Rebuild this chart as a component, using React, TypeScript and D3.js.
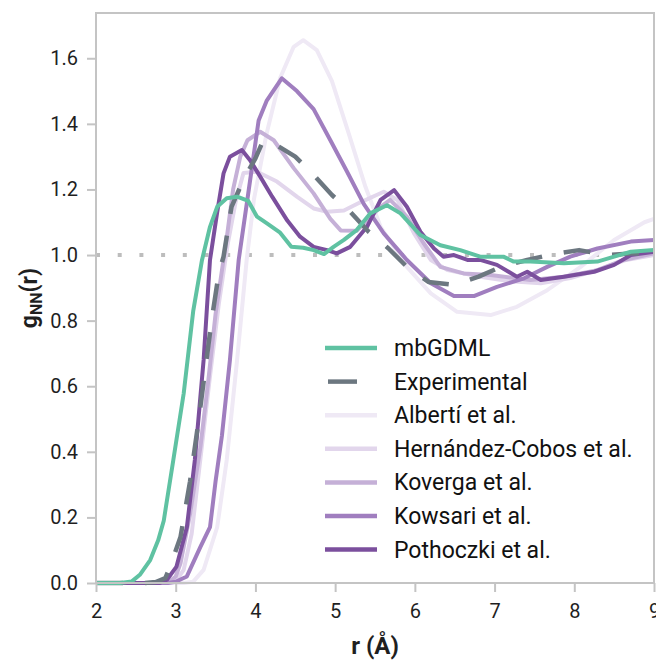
import React, { useEffect, useRef } from 'react';
import * as d3 from 'd3';

// values
const mbgdmlR = [2.0, 2.3, 2.45, 2.55, 2.68, 2.78, 2.85, 2.97, 3.1, 3.22, 3.33, 3.43, 3.52, 3.64, 3.77, 3.91, 4.02, 4.14, 4.31, 4.45, 4.6, 4.73, 4.86, 4.98, 5.11, 5.27, 5.44, 5.65, 5.82, 6.07, 6.32, 6.57, 6.82, 7.11, 7.24, 7.45, 7.87, 8.29, 8.5, 8.71, 9.0];
const mbgdmlG = [0, 0, 0.005, 0.025, 0.07, 0.13, 0.19, 0.375, 0.578, 0.83, 0.985, 1.086, 1.147, 1.173, 1.178, 1.165, 1.117, 1.097, 1.068, 1.025, 1.022, 1.015, 1.003, 1.025, 1.046, 1.076, 1.127, 1.152, 1.127, 1.061, 1.03, 1.015, 0.995, 0.995, 0.98, 0.98, 0.975, 0.98, 0.995, 1.01, 1.015];

const expR = [2.0, 2.6, 2.75, 2.87, 2.93, 3.06, 3.18, 3.29, 3.37, 3.45, 3.54, 3.6, 3.7, 3.85, 4.0, 4.1, 4.23, 4.5, 4.73, 4.96, 5.19, 5.42, 5.67, 5.9, 6.17, 6.49, 6.8, 7.08, 7.41, 7.74, 8.06, 8.4, 8.71, 9.0];
const expG = [0, 0, 0.003, 0.015, 0.05, 0.14, 0.31, 0.5, 0.65, 0.8, 0.944, 0.995, 1.147, 1.23, 1.295, 1.35, 1.34, 1.3, 1.244, 1.183, 1.132, 1.071, 1.02, 0.964, 0.918, 0.909, 0.934, 0.964, 0.985, 1.003, 1.015, 1.0, 1.005, 1.005];

const albertiR = [2.0, 3.1, 3.22, 3.35, 3.52, 3.64, 3.77, 3.89, 3.98, 4.14, 4.31, 4.48, 4.6, 4.77, 4.96, 5.17, 5.38, 5.57, 5.9, 6.2, 6.53, 6.95, 7.28, 7.66, 8.08, 8.5, 8.88, 9.0];
const albertiG = [0, 0, 0.004, 0.04, 0.17, 0.375, 0.68, 0.985, 1.168, 1.37, 1.54, 1.635, 1.655, 1.625, 1.53, 1.371, 1.208, 1.086, 0.964, 0.883, 0.827, 0.817, 0.842, 0.893, 0.964, 1.046, 1.1, 1.11];

const hernandezR = [2.0, 2.9, 3.0, 3.1, 3.2, 3.32, 3.43, 3.54, 3.65, 3.75, 3.85, 4.02, 4.27, 4.52, 4.73, 4.9, 5.11, 5.31, 5.52, 5.61, 5.78, 5.99, 6.2, 6.41, 6.82, 7.2, 7.58, 7.95, 8.3, 8.65, 9.0];
const hernandezG = [0, 0, 0.005, 0.04, 0.15, 0.4, 0.63, 0.85, 1.03, 1.16, 1.25, 1.254, 1.224, 1.178, 1.142, 1.132, 1.136, 1.16, 1.183, 1.193, 1.168, 1.066, 0.985, 0.954, 0.934, 0.92, 0.914, 0.93, 0.955, 0.985, 1.0];

const kovergaR = [2.0, 2.9, 3.0, 3.06, 3.18, 3.31, 3.41, 3.5, 3.56, 3.65, 3.72, 3.81, 3.9, 4.06, 4.23, 4.48, 4.73, 4.94, 5.07, 5.27, 5.57, 5.69, 5.9, 6.11, 6.32, 6.61, 6.95, 7.45, 7.87, 8.29, 8.62, 9.0];
const kovergaG = [0, 0, 0.02, 0.06, 0.21, 0.415, 0.62, 0.82, 0.92, 1.07, 1.2, 1.3, 1.35, 1.376, 1.35, 1.265, 1.188, 1.11, 1.075, 1.074, 1.147, 1.168, 1.117, 1.036, 0.964, 0.944, 0.939, 0.924, 0.934, 0.954, 0.985, 1.005];

const kowsariR = [2.0, 2.9, 3.0, 3.14, 3.31, 3.43, 3.5, 3.58, 3.68, 3.79, 3.91, 4.04, 4.14, 4.33, 4.52, 4.73, 4.94, 5.15, 5.36, 5.61, 5.9, 6.2, 6.49, 6.74, 7.03, 7.37, 7.66, 7.95, 8.29, 8.71, 9.0];
const kowsariG = [0, 0, 0.004, 0.02, 0.11, 0.17, 0.31, 0.45, 0.68, 0.985, 1.188, 1.41, 1.47, 1.539, 1.5, 1.445, 1.35, 1.254, 1.155, 1.066, 0.985, 0.914, 0.875, 0.875, 0.903, 0.929, 0.964, 0.995, 1.02, 1.041, 1.046];

const pothoczkiR = [2.0, 2.8, 2.89, 3.01, 3.14, 3.24, 3.35, 3.43, 3.52, 3.6, 3.68, 3.83, 3.93, 4.06, 4.21, 4.4, 4.56, 4.73, 4.9, 5.02, 5.19, 5.4, 5.57, 5.74, 5.9, 6.07, 6.24, 6.36, 6.49, 6.66, 6.82, 7.03, 7.28, 7.41, 7.58, 7.87, 8.25, 8.5, 8.71, 9.0];
const pothoczkiG = [0, 0, 0.01, 0.05, 0.17, 0.375, 0.68, 0.985, 1.13, 1.249, 1.3, 1.32, 1.29, 1.239, 1.178, 1.105, 1.056, 1.025, 1.015, 1.005, 1.025, 1.086, 1.168, 1.198, 1.147, 1.071, 1.02, 0.995, 1.0, 0.985, 0.985, 0.97, 0.934, 0.949, 0.924, 0.934, 0.949, 0.97, 1.0, 1.01];

const xTicks = [2, 3, 4, 5, 6, 7, 8, 9];
const yTicks = [0, 0.2, 0.4, 0.6, 0.8, 1.0, 1.2, 1.4, 1.6];

// legend order
const series = [
  { name: 'mbGDML', r: mbgdmlR, g: mbgdmlG, color: '#5fc2a2', dashed: false },
  { name: 'Experimental', r: expR, g: expG, color: '#6c7780', dashed: true },
  { name: 'Albertí et al.', r: albertiR, g: albertiG, color: '#efe9f5', dashed: false },
  { name: 'Hernández-Cobos et al.', r: hernandezR, g: hernandezG, color: '#e2d6ec', dashed: false },
  { name: 'Koverga et al.', r: kovergaR, g: kovergaG, color: '#c5b0d7', dashed: false },
  { name: 'Kowsari et al.', r: kowsariR, g: kowsariG, color: '#a07ebf', dashed: false },
  { name: 'Pothoczki et al.', r: pothoczkiR, g: pothoczkiG, color: '#7b4f9d', dashed: false },
];

const W = 656;
const H = 660;
const margin = { top: 13, right: 2, bottom: 77, left: 96 };

export default function App() {
  const ref = useRef<SVGSVGElement>(null);

  useEffect(() => {
    const svg = d3.select(ref.current);
    svg.selectAll('*').remove();
    const font = 'Roboto, "DejaVu Sans", sans-serif';
    const x = d3.scaleLinear().domain([2, 9]).range([margin.left, W - margin.right]);
    const y = d3.scaleLinear().domain([0, 1.738]).range([H - margin.bottom, margin.top]);
    const frame = '#c4c4c4';

    // 1.0 reference line
    svg.append('line')
      .attr('x1', x(2)).attr('x2', x(9))
      .attr('y1', y(1)).attr('y2', y(1))
      .attr('stroke', '#bdbdbd').attr('stroke-width', 4)
      .attr('stroke-dasharray', '4 17.7');

    const line = d3.line<[number, number]>().x(d => x(d[0])).y(d => y(d[1]));
    const drawOrder = [2, 3, 4, 5, 6, 1, 0];
    drawOrder.forEach(i => {
      const s = series[i];
      const pts = s.r.map((r, k) => [r, s.g[k]] as [number, number]);
      svg.append('path')
        .attr('d', line(pts))
        .attr('fill', 'none')
        .attr('stroke', s.color)
        .attr('stroke-width', s.dashed ? 4.5 : 4)
        .attr('stroke-linejoin', 'round')
        .attr('stroke-dasharray', s.dashed ? '27 22' : null);
    });

    // frame
    svg.append('rect')
      .attr('x', margin.left).attr('y', margin.top)
      .attr('width', W - margin.left - margin.right)
      .attr('height', H - margin.top - margin.bottom)
      .attr('fill', 'none').attr('stroke', frame).attr('stroke-width', 2);

    const xAxis = svg.append('g')
      .attr('transform', `translate(0,${H - margin.bottom})`)
      .call(d3.axisBottom(x).tickValues(xTicks).tickFormat(d3.format('d')).tickSize(9).tickPadding(12));
    const yAxis = svg.append('g')
      .attr('transform', `translate(${margin.left},0)`)
      .call(d3.axisLeft(y).tickValues(yTicks).tickFormat(d3.format('.1f')).tickSize(9).tickPadding(9));
    [xAxis, yAxis].forEach(a => {
      a.select('.domain').remove();
      a.selectAll('line').attr('stroke', frame).attr('stroke-width', 2);
      a.selectAll('text').attr('font-family', font).attr('font-size', 20).attr('fill', '#1f1f1f');
    });

    svg.append('text')
      .attr('x', (margin.left + W - margin.right) / 2).attr('y', 654)
      .attr('text-anchor', 'middle')
      .attr('font-family', font).attr('font-size', 24).attr('font-weight', 'bold')
      .attr('fill', '#1f1f1f')
      .text('r (Å)');

    const yl = svg.append('text')
      .attr('transform', `translate(37,${(margin.top + H - margin.bottom) / 2}) rotate(-90)`)
      .attr('text-anchor', 'middle')
      .attr('font-family', font).attr('font-size', 23).attr('font-weight', 'bold')
      .attr('fill', '#1f1f1f');
    yl.append('tspan').text('g');
    yl.append('tspan').attr('font-size', 16).attr('dy', 5).text('NN');
    yl.append('tspan').attr('dy', -5).text('(r)');

    // legend
    const leg = svg.append('g').attr('transform', 'translate(325,348)');
    series.forEach((s, i) => {
      const row = leg.append('g').attr('transform', `translate(0,${i * 33.6})`);
      row.append('line')
        .attr('x1', s.dashed ? 3 : 0).attr('x2', s.dashed ? 32 : 52)
        .attr('stroke', s.color).attr('stroke-width', 4.5);
      row.append('text')
        .attr('x', 69).attr('y', 0).attr('dy', '0.35em')
        .attr('font-family', font).attr('font-size', 23)
        .attr('fill', '#111')
        .text(s.name);
    });
  }, []);

  return (
    <svg ref={ref} width={W} height={H}
      style={{ position: 'absolute', left: 0, top: 0, background: '#fff' }} />
  );
}
